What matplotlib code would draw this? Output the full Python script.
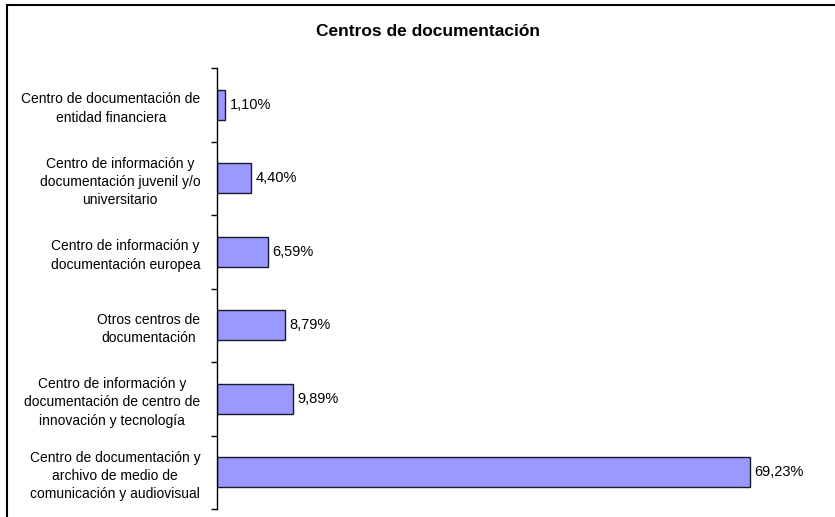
import matplotlib
matplotlib.use('Agg')
import matplotlib.pyplot as plt
from matplotlib.patches import Rectangle

plt.rcParams['font.family'] = ['Liberation Sans', 'DejaVu Sans']

# categories, bottom to top
categories = [
    'Centro de documentación y\narchivo de medio de\ncomunicación y audiovisual',
    'Centro de información y\ndocumentación de centro de\ninnovación y tecnología',
    'Otros centros de\ndocumentación',
    'Centro de información y\ndocumentación europea',
    'Centro de información y\ndocumentación juvenil y/o\nuniversitario',
    'Centro de documentación de\nentidad financiera',
]
values = [69.23, 9.89, 8.79, 6.59, 4.40, 1.10]
value_labels = ['69,23%', '9,89%', '8,79%', '6,59%', '4,40%', '1,10%']
title = 'Centros de documentación'

W, H = 835, 517
fig = plt.figure(figsize=(W / 100, H / 100), dpi=100)
ax = fig.add_axes([217 / W, 8 / H, (794 - 217) / W, (509 - 8 - 60) / H])

pos = list(range(len(values)))
ax.barh(pos, values, height=0.41, color='#9999FF', edgecolor='#1a1a2e', linewidth=1)

for p, v, lab in zip(pos, values, value_labels):
    ax.text(v + 0.6, p, lab, va='center', ha='left', fontsize=10.5)

ax.set_xlim(0, 75)
ax.set_ylim(-0.5, len(values) - 0.5)

ax.set_yticks(pos)
ax.set_yticklabels(categories, fontsize=10, multialignment='center', linespacing=1.4)
ax.tick_params(axis='y', which='major', length=0, pad=12)
ax.set_yticks([p - 0.5 for p in range(len(values) + 1)], minor=True)
ax.tick_params(axis='y', which='minor', length=4, width=1, direction='out')

ax.set_xticks([])
for s in ['top', 'right', 'bottom']:
    ax.spines[s].set_visible(False)
ax.spines['left'].set_linewidth(1)

fig.text(428 / W, 1 - 31 / H, title, ha='center', va='center', fontsize=12.5, fontweight='bold')

# chart frame (only top and left edges visible in the crop)
fig.patches.append(Rectangle((7 / W, -0.1), 1.2, 1 - 5 / H + 0.1, transform=fig.transFigure,
                             fill=False, edgecolor='black', linewidth=1.5))

fig.savefig('out.png', dpi=100)
